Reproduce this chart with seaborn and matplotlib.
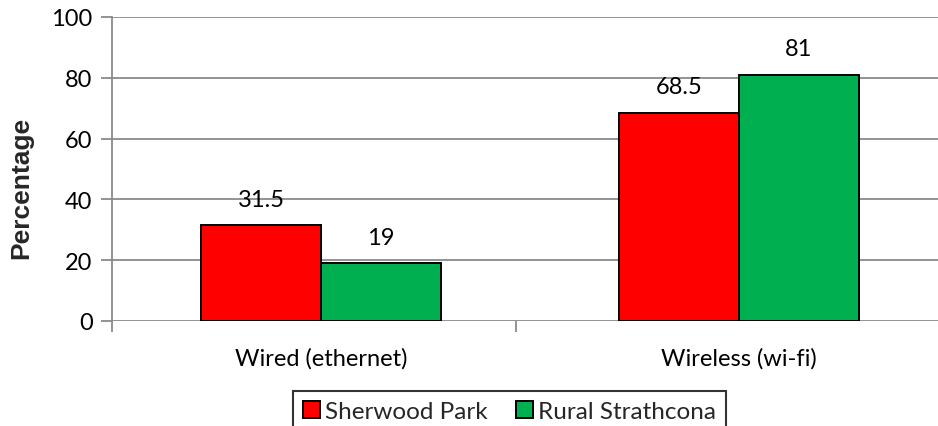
import pandas as pd
import matplotlib.pyplot as plt
import seaborn as sns

# dados do gráfico
categorias = ["Wired (ethernet)", "Wireless (wi-fi)"]
regioes = ["Sherwood Park", "Rural Strathcona"]
sherwood_park = [31.5, 68.5]
rural_strathcona = [19, 81]

df = pd.DataFrame({
    "Conexão": categorias * 2,
    "Região": [regioes[0]] * 2 + [regioes[1]] * 2,
    "Percentage": sherwood_park + rural_strathcona,
})

sns.set_style("white")
plt.rcParams["font.family"] = ["Lato", "DejaVu Sans"]

fig = plt.figure(figsize=(9.38, 4.27), dpi=100)
ax = fig.add_axes([112 / 938, 105 / 427, 1 - 112 / 938, 304 / 427])

sns.barplot(data=df, x="Conexão", y="Percentage", hue="Região",
            palette=["#FF0000", "#00B050"], saturation=1, width=0.574, gap=0,
            edgecolor="black", linewidth=1.4, ax=ax, zorder=3)

# rótulos em cima das barras
for cont in ax.containers:
    for barra in cont:
        h = barra.get_height()
        ax.annotate(f"{h:g}", (barra.get_x() + barra.get_width() / 2, h),
                    xytext=(0, 11), textcoords="offset points",
                    ha="center", va="bottom", fontsize=17, color="black")

ax.set_ylim(0, 100)
ax.set_yticks([0, 20, 40, 60, 80, 100])
ax.set_xlim(-0.5, 1.476)
ax.grid(axis="y", color="#8a8a8a", linewidth=1.3, zorder=0)
ax.grid(axis="x", visible=False)

for lado in ["top", "right", "bottom"]:
    ax.spines[lado].set_visible(False)
ax.spines["left"].set_color("#8a8a8a")
ax.spines["left"].set_linewidth(1.3)
ax.spines["left"].set_zorder(1)

ax.tick_params(axis="y", which="major", left=True, length=8, width=1.3,
               color="#8a8a8a", labelsize=17, labelcolor="black", pad=6)
ax.tick_params(axis="x", which="major", length=0, labelsize=17,
               labelcolor="black", pad=19)
ax.set_xticks([-0.5, 0.466], minor=True)
ax.tick_params(axis="x", which="minor", bottom=True, length=8, width=1.3,
               color="#8a8a8a")

ax.set_xlabel("")
ax.set_ylabel("Percentage", fontsize=19, fontweight="bold",
              family="Liberation Sans")
ax.yaxis.set_label_coords(-0.0956, 0.44)

handles, labels = ax.get_legend_handles_labels()
ax.get_legend().remove()
leg = fig.legend(handles, labels, loc="upper center", ncol=2,
                 bbox_to_anchor=(509.5 / 938, 1 - 392 / 427), fontsize=17.5,
                 frameon=True, fancybox=False, edgecolor="black",
                 handlelength=0.7, handleheight=0.7, handletextpad=0.2,
                 columnspacing=1.2, borderpad=0.4, borderaxespad=0)
leg.get_frame().set_linewidth(1.5)

plt.savefig("out.png", dpi=100)
